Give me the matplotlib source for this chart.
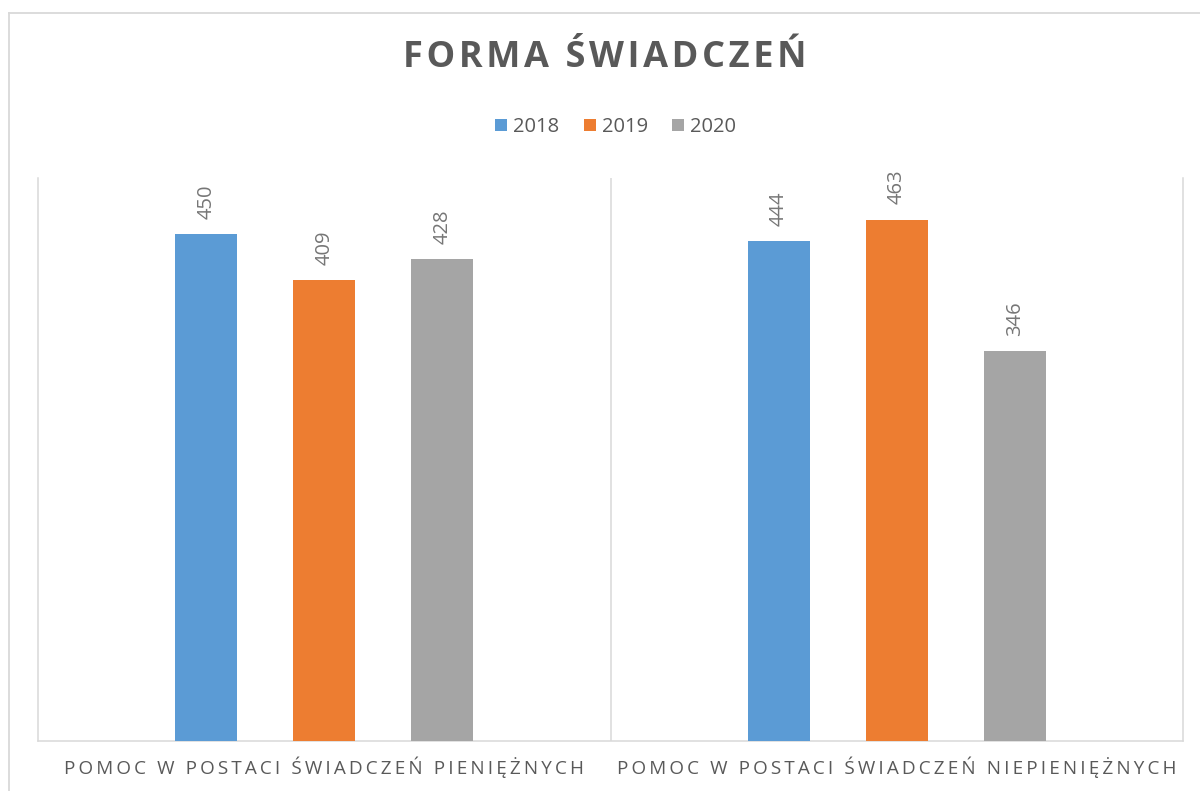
import matplotlib
matplotlib.use('Agg')
import matplotlib.pyplot as plt
import numpy as np
from matplotlib.patches import Patch
from matplotlib.lines import Line2D

plt.rcParams['font.family'] = ['Open Sans', 'DejaVu Sans']

title = 'FORMA ŚWIADCZEŃ'
categories = ['POMOC W POSTACI ŚWIADCZEŃ PIENIĘŻNYCH',
              'POMOC W POSTACI ŚWIADCZEŃ NIEPIENIĘŻNYCH']
years = ['2018', '2019', '2020']
values_2018 = [450, 444]
values_2019 = [409, 463]
values_2020 = [428, 346]
colors = ['#5b9bd5', '#ed7d31', '#a5a5a5']

text_gray = '#595959'
line_gray = '#d9d9d9'


def spaced(s, sep='\u2009'):
    # fake letter spacing, matplotlib has no tracking option
    return sep.join(s)


fig = plt.figure(figsize=(12, 7.91), dpi=100)
ax = fig.add_axes([38 / 1200, 50 / 791, 1145 / 1200, 563 / 791])

x = np.arange(len(categories))
width = 0.108
offset = 0.206
series = [values_2018, values_2019, values_2020]
for i, (vals, year, col) in enumerate(zip(series, years, colors)):
    pos = x + (i - 1) * offset
    ax.bar(pos, vals, width=width, color=col, label=year, zorder=3)
    for xb, v in zip(pos, vals):
        ax.annotate(str(v), (xb, v), xytext=(0, 11), textcoords='offset points',
                    rotation=90, ha='center', va='bottom', fontsize=14.5,
                    color='#767676')

ax.set_xlim(-0.5, 1.5)
ax.set_ylim(0, 500)
ax.set_yticks([])
ax.set_xticks(x)
ax.set_xticklabels([spaced(c) for c in categories], fontsize=13.6, color=text_gray)
ax.tick_params(axis='x', length=0, pad=11)
ax.axvline(0.5, color=line_gray, lw=1.1, zorder=1)
ax.spines['top'].set_visible(False)
for side in ['left', 'right', 'bottom']:
    ax.spines[side].set_color(line_gray)
    ax.spines[side].set_linewidth(1.1)

fig.text(0.504, 1 - 58 / 791, spaced(title, '\u200a'), ha='center', va='center',
         fontsize=26, fontweight='bold', color=text_gray)

handles = [Patch(facecolor=c, edgecolor='none') for c in colors]
fig.legend(handles, years, loc='center', bbox_to_anchor=(0.513, 1 - 127 / 791),
           ncol=3, frameon=False, fontsize=14.5, handlelength=0.6, handleheight=0.6,
           handletextpad=0.3, columnspacing=1.2, labelcolor=text_gray)

# outer chart frame (only left and top edges are visible in the crop)
fig.add_artist(Line2D([8.5 / 1200, 8.5 / 1200], [0, 1 - 12.5 / 791],
                      transform=fig.transFigure, color=line_gray, lw=1.3))
fig.add_artist(Line2D([8.5 / 1200, 1], [1 - 12.5 / 791, 1 - 12.5 / 791],
                      transform=fig.transFigure, color=line_gray, lw=1.3))

fig.savefig('out.png', dpi=100)
